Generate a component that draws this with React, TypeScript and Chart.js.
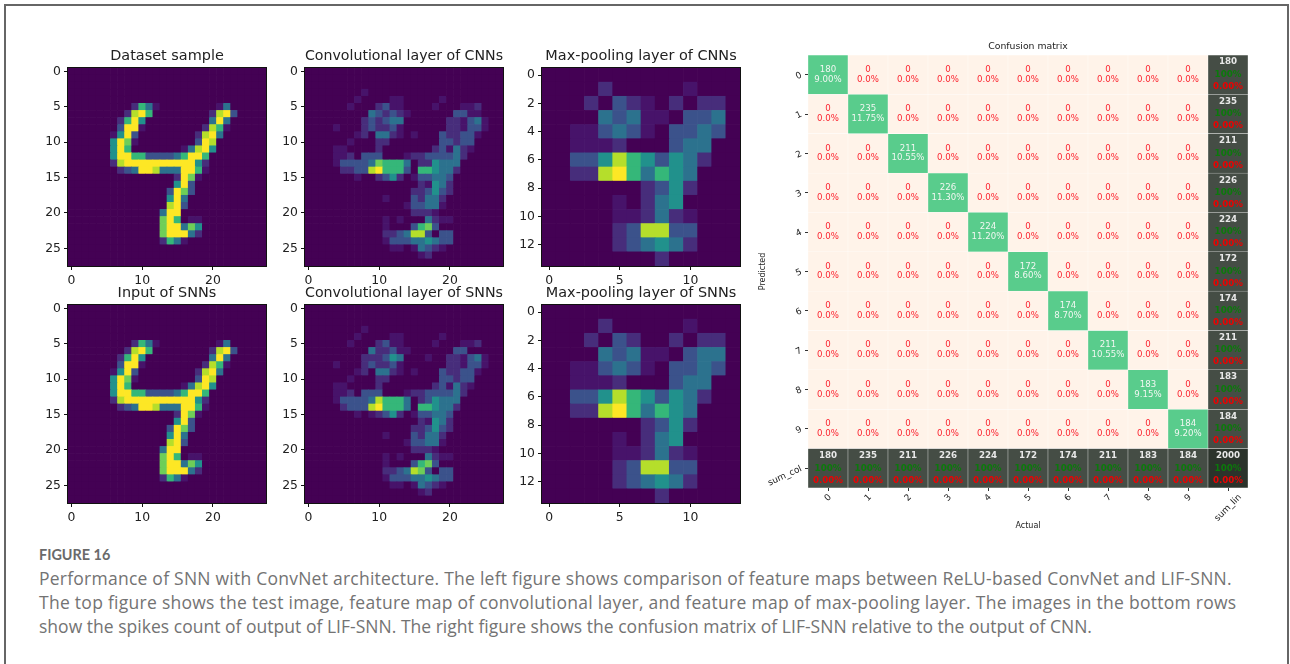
import React, { useEffect, useRef } from "react";
import { Chart, registerables } from "chart.js";

Chart.register(...registerables);

const viridis = ["#440154", "#47136a", "#472d7b", "#3b528b", "#2c728e", "#21918c", "#35b779", "#6ece58", "#b5de2b", "#fde725"];

const sampleRows = [
[0,0,0,0,0,0,0,0,0,0,0,0,0,0,0,0,0,0,0,0,0,0,0,0,0,0,0,0],
[0,0,0,0,0,0,0,0,0,0,0,0,0,0,0,0,0,0,0,0,0,0,0,0,0,0,0,0],
[0,0,0,0,0,0,0,0,0,0,0,0,0,0,0,0,0,0,0,0,0,0,0,0,0,0,0,0],
[0,0,0,0,0,0,0,0,0,0,0,0,0,0,0,0,0,0,0,0,0,0,0,0,0,0,0,0],
[0,0,0,0,0,0,0,0,0,0,0,0,0,0,0,0,0,0,0,0,0,0,0,0,0,0,0,0],
[0,0,0,0,0,0,0,0,0,2,6,4,1,0,0,0,0,0,0,0,0,1,4,0,0,0,0,0],
[0,0,0,0,0,0,0,0,2,8,9,6,0,0,0,0,0,0,0,0,2,8,9,3,0,0,0,0],
[0,0,0,0,0,0,0,2,6,9,5,0,0,0,0,0,0,0,0,0,4,9,4,0,0,0,0,0],
[0,0,0,0,0,0,0,3,9,9,1,0,0,0,0,0,0,0,0,2,8,6,1,0,0,0,0,0],
[0,0,0,0,0,0,1,5,9,3,0,0,0,0,0,0,0,0,2,8,9,4,0,0,0,0,0,0],
[0,0,0,0,0,0,5,9,7,1,0,0,0,0,0,0,0,0,3,9,8,0,0,0,0,0,0,0],
[0,0,0,0,0,0,5,9,6,0,0,0,0,0,0,0,1,4,8,9,5,0,0,0,0,0,0,0],
[0,0,0,0,0,0,5,9,9,6,6,3,3,3,3,4,6,9,9,6,0,0,0,0,0,0,0,0],
[0,0,0,0,0,0,2,8,9,9,9,9,9,9,9,9,9,9,5,2,0,0,0,0,0,0,0,0],
[0,0,0,0,0,0,0,2,3,4,9,9,8,4,4,4,9,9,6,1,0,0,0,0,0,0,0,0],
[0,0,0,0,0,0,0,0,0,0,0,0,0,0,0,2,9,7,1,0,0,0,0,0,0,0,0,0],
[0,0,0,0,0,0,0,0,0,0,0,0,0,0,0,5,9,3,0,0,0,0,0,0,0,0,0,0],
[0,0,0,0,0,0,0,0,0,0,0,0,0,0,3,9,7,3,0,0,0,0,0,0,0,0,0,0],
[0,0,0,0,0,0,0,0,0,0,0,0,0,0,5,9,4,0,0,0,0,0,0,0,0,0,0,0],
[0,0,0,0,0,0,0,0,0,0,0,0,0,0,8,9,3,0,0,0,0,0,0,0,0,0,0,0],
[0,0,0,0,0,0,0,0,0,0,0,0,0,4,9,9,0,0,0,0,0,0,0,0,0,0,0,0],
[0,0,0,0,0,0,0,0,0,0,0,0,0,7,9,6,0,1,1,0,0,0,0,0,0,0,0,0],
[0,0,0,0,0,0,0,0,0,0,0,0,0,7,9,9,4,7,5,0,0,0,0,0,0,0,0,0],
[0,0,0,0,0,0,0,0,0,0,0,0,0,7,9,9,9,4,2,0,0,0,0,0,0,0,0,0],
[0,0,0,0,0,0,0,0,0,0,0,0,0,2,6,4,1,0,0,0,0,0,0,0,0,0,0,0],
[0,0,0,0,0,0,0,0,0,0,0,0,0,0,0,0,0,0,0,0,0,0,0,0,0,0,0,0],
[0,0,0,0,0,0,0,0,0,0,0,0,0,0,0,0,0,0,0,0,0,0,0,0,0,0,0,0],
[0,0,0,0,0,0,0,0,0,0,0,0,0,0,0,0,0,0,0,0,0,0,0,0,0,0,0,0],
];

const convCnnRows = [
[0,0,0,0,0,0,0,0,0,0,0,0,0,0,0,0,0,0,0,0,0,0,0,0,0,0,0,0],
[0,0,0,0,0,0,0,0,0,0,0,0,0,0,0,0,0,0,0,0,0,0,0,0,0,0,0,0],
[0,0,0,0,0,0,0,0,0,0,0,0,0,0,0,0,0,0,0,0,0,0,0,0,0,0,0,0],
[0,0,0,0,0,0,0,0,1,0,0,0,0,0,0,0,0,0,0,0,0,0,0,0,0,0,0,0],
[0,0,0,0,0,0,0,1,0,0,0,0,1,1,0,0,0,0,0,1,0,0,0,0,0,0,0,0],
[0,0,0,0,0,0,1,0,0,0,2,3,1,1,0,0,0,0,1,0,0,0,1,1,2,0,0,0],
[0,0,0,0,0,0,0,0,0,4,3,2,3,2,1,0,0,0,0,0,0,3,3,1,1,0,0,0],
[0,0,0,0,0,0,0,0,2,3,2,3,4,4,0,0,0,0,0,0,2,2,1,3,4,1,0,0],
[0,0,0,0,1,0,0,0,2,3,2,2,3,1,0,0,0,0,0,0,2,2,1,3,3,1,0,0],
[0,0,0,0,0,0,0,1,2,0,4,4,2,1,0,1,0,0,0,3,2,2,3,3,1,0,0,0],
[0,0,0,0,0,0,1,0,0,0,2,2,0,0,0,0,0,0,0,3,3,2,3,3,0,0,0,0],
[0,0,0,0,1,1,0,0,0,0,2,0,0,0,0,0,0,0,2,3,1,4,2,1,0,0,0,0],
[0,0,0,0,1,1,2,0,3,3,3,0,0,0,1,2,2,3,3,3,3,4,2,0,0,0,0,0],
[0,0,0,0,1,3,3,3,3,4,7,6,6,6,4,0,2,2,5,4,4,4,0,0,0,0,0,0],
[0,0,0,0,0,2,2,3,3,8,9,6,6,6,3,0,6,6,5,4,4,2,0,0,0,0,0,0],
[0,0,0,0,0,0,0,1,0,0,2,3,5,2,0,1,3,3,4,4,3,0,0,0,0,0,0,0],
[0,0,0,0,0,0,0,0,0,0,0,0,0,0,0,0,2,1,5,4,2,0,0,0,0,0,0,0],
[0,0,0,0,0,0,0,0,0,0,0,0,0,0,0,2,2,3,5,3,2,0,0,0,0,0,0,0],
[0,0,0,0,0,0,0,0,0,0,0,1,0,0,0,3,2,4,4,2,0,0,0,0,0,0,0,0],
[0,0,0,0,0,0,0,0,0,0,0,0,0,0,1,3,3,4,4,1,0,0,0,0,0,0,0,0],
[0,0,0,0,0,0,0,0,0,0,0,0,0,0,0,2,2,2,1,0,0,0,0,0,0,0,0,0],
[0,0,0,0,0,0,0,0,0,0,0,1,0,1,0,0,0,4,2,1,1,0,0,0,0,0,0,0],
[0,0,0,0,0,0,0,0,0,0,0,1,0,0,0,3,6,7,3,0,0,0,0,0,0,0,0,0],
[0,0,0,0,0,0,0,0,0,0,0,2,2,3,4,8,8,3,0,3,3,0,0,0,0,0,0,0],
[0,0,0,0,0,0,0,0,0,0,0,1,3,3,3,4,4,5,4,3,3,0,0,0,0,0,0,0],
[0,0,0,0,0,0,0,0,0,0,0,0,1,1,0,1,4,3,2,1,0,0,0,0,0,0,0,0],
[0,0,0,0,0,0,0,0,0,0,0,0,0,0,0,0,1,2,0,0,0,0,0,0,0,0,0,0],
[0,0,0,0,0,0,0,0,0,0,0,0,0,0,0,0,0,0,0,0,0,0,0,0,0,0,0,0],
];

const convSnnRows = [
[0,0,0,0,0,0,0,0,0,0,0,0,0,0,0,0,0,0,0,0,0,0,0,0,0,0,0,0],
[0,0,0,0,0,0,0,0,0,0,0,0,0,0,0,0,0,0,0,0,0,0,0,0,0,0,0,0],
[0,0,0,0,0,0,0,0,0,0,0,0,0,0,0,0,0,0,0,0,0,0,0,0,0,0,0,0],
[0,0,0,0,0,0,0,0,1,0,0,0,0,0,0,0,0,0,0,0,0,0,0,0,0,0,0,0],
[0,0,0,0,0,0,0,1,0,0,0,0,1,1,0,0,0,0,0,1,0,0,0,0,0,0,0,0],
[0,0,0,0,0,0,1,0,0,0,2,3,1,1,0,0,0,0,1,0,0,0,1,1,2,0,0,0],
[0,0,0,0,0,0,0,0,0,4,2,2,3,1,1,0,0,0,0,0,0,3,3,0,0,0,0,0],
[0,0,0,0,0,0,0,0,2,2,2,3,5,4,0,0,0,1,0,0,2,2,1,3,4,1,0,0],
[0,0,0,0,1,0,0,0,2,3,2,2,3,1,0,0,0,0,0,0,2,2,1,3,3,1,0,0],
[0,0,0,0,0,0,0,1,2,0,4,4,2,1,0,1,0,0,0,3,2,2,3,3,1,0,0,0],
[0,0,0,0,0,0,1,0,0,0,2,2,0,0,0,0,0,0,0,3,3,2,3,3,0,0,0,0],
[0,0,0,0,1,1,0,0,0,0,2,0,0,0,0,0,0,0,2,3,1,4,2,1,0,0,0,0],
[0,0,0,0,1,1,2,0,3,3,3,0,0,0,1,2,2,3,3,3,3,4,2,0,0,0,0,0],
[0,0,0,0,1,3,3,3,3,4,8,6,6,6,4,0,2,3,5,4,4,4,0,0,0,0,0,0],
[0,0,0,0,0,2,3,3,3,8,9,6,6,6,4,0,6,6,5,4,4,2,0,0,0,0,0,0],
[0,0,0,0,0,0,0,1,0,1,2,3,5,2,0,1,3,3,4,4,3,0,0,0,0,0,0,0],
[0,0,0,0,0,0,0,0,0,0,0,0,0,0,0,0,2,1,5,4,2,0,0,0,0,0,0,0],
[0,0,0,0,0,0,0,0,0,0,0,0,0,0,0,2,2,3,5,3,2,0,0,0,0,0,0,0],
[0,0,0,0,0,0,0,0,0,0,0,1,0,0,0,3,2,4,4,2,0,0,0,0,0,0,0,0],
[0,0,0,0,0,0,0,0,0,0,0,0,0,0,1,3,3,4,4,1,0,0,0,0,0,0,0,0],
[0,0,0,0,0,0,0,0,0,0,0,0,0,0,0,2,2,2,1,0,0,0,0,0,0,0,0,0],
[0,0,0,0,0,0,0,0,0,0,0,1,0,1,0,0,0,4,2,1,1,0,0,0,0,0,0,0],
[0,0,0,0,0,0,0,0,0,0,0,1,0,0,0,3,6,7,3,0,0,0,0,0,0,0,0,0],
[0,0,0,0,0,0,0,0,0,0,0,2,2,3,4,8,7,3,0,3,3,0,0,0,0,0,0,0],
[0,0,0,0,0,0,0,0,0,0,0,1,3,3,3,4,4,5,4,3,3,0,0,0,0,0,0,0],
[0,0,0,0,0,0,0,0,0,0,0,0,1,1,0,1,4,3,2,1,0,0,0,0,0,0,0,0],
[0,0,0,0,0,0,0,0,0,0,0,0,0,0,0,0,1,2,0,0,0,0,0,0,0,0,0,0],
[0,0,0,0,0,0,0,0,0,0,0,0,0,0,0,0,0,0,0,0,0,0,0,0,0,0,0,0],
];

const poolCnnRows = [
[0,0,0,0,0,0,0,0,0,0,0,0,0,0],
[0,0,0,0,2,0,0,0,0,0,1,0,0,0],
[0,0,0,2,0,3,2,1,0,2,0,2,2,0],
[0,0,0,0,4,3,4,1,1,0,3,3,4,0],
[0,0,1,1,3,4,3,1,0,3,3,4,3,0],
[0,0,1,1,1,2,0,0,0,3,4,4,0,0],
[0,0,3,3,5,8,6,5,3,5,4,2,0,0],
[0,0,2,2,8,9,6,4,6,5,4,0,0,0],
[0,0,0,0,0,0,0,2,3,5,2,0,0,0],
[0,0,0,0,0,1,0,2,4,5,0,0,0,0],
[0,0,0,0,0,1,1,2,4,2,1,0,0,0],
[0,0,0,0,0,2,3,8,8,3,3,0,0,0],
[0,0,0,0,0,2,3,4,5,4,2,0,0,0],
[0,0,0,0,0,0,0,0,2,0,0,0,0,0],
];

const poolSnnRows = [
[0,0,0,0,0,0,0,0,0,0,0,0,0,0],
[0,0,0,0,2,0,0,0,0,0,1,0,0,0],
[0,0,0,2,0,3,2,0,0,2,0,2,2,0],
[0,0,0,0,4,3,4,1,1,0,3,4,4,0],
[0,0,1,1,3,4,3,1,0,3,3,4,3,0],
[0,0,1,1,1,2,0,0,0,3,4,4,0,0],
[0,0,3,3,5,8,6,5,3,5,4,2,0,0],
[0,0,2,2,8,9,6,4,6,5,4,0,0,0],
[0,0,0,0,0,0,0,2,3,5,2,0,0,0],
[0,0,0,0,0,1,0,2,4,5,0,0,0,0],
[0,0,0,0,0,1,1,2,4,2,1,0,0,0],
[0,0,0,0,0,2,3,8,8,3,3,0,0,0],
[0,0,0,0,0,2,3,4,5,4,2,0,0,0],
[0,0,0,0,0,0,0,0,2,0,0,0,0,0],
];

const ticks28 = [0, 5, 10, 15, 20, 25];
const ticks28X = [0, 10, 20];
const ticks14Y = [0, 2, 4, 6, 8, 10, 12];
const ticks14X = [0, 5, 10];

const cmLabelsX = ["0", "1", "2", "3", "4", "5", "6", "7", "8", "9", "sum_lin"];
const cmLabelsY = ["0", "1", "2", "3", "4", "5", "6", "7", "8", "9", "sum_col"];
const cmDiagonal = [180, 235, 211, 226, 224, 172, 174, 211, 183, 184];
const cmDiagonalPct = ["9.00%", "11.75%", "10.55%", "11.30%", "11.20%", "8.60%", "8.70%", "10.55%", "9.15%", "9.20%"];
const cmTotal = 2000;

const captionLines = [
  "Performance of SNN with ConvNet architecture. The left figure shows comparison of feature maps between ReLU-based ConvNet and LIF-SNN.",
  "The top figure shows the test image, feature map of convolutional layer, and feature map of max-pooling layer. The images in the bottom rows",
  "show the spikes count of output of LIF-SNN. The right figure shows the confusion matrix of LIF-SNN relative to the output of CNN.",
];
const captionSpacing = [0.24, 0.27, 0.02];

const FONT = '"DejaVu Sans"';
const SIDE = 198;
const MX = 38;
const MT = 30;
const MB = 30;
const SOFT = "blur(0.35px)";

const spinePlugin = {
  id: "spine",
  afterDatasetsDraw(chart: any) {
    const { ctx, chartArea: a } = chart;
    ctx.save();
    ctx.strokeStyle = "#111";
    ctx.lineWidth = 1;
    ctx.strokeRect(a.left - 0.5, a.top - 0.5, a.right - a.left + 1, a.bottom - a.top + 1);
    ctx.restore();
  },
};

function Heatmap({ left, top, title, rows, xTicks, yTicks }: any) {
  const ref = useRef<HTMLCanvasElement>(null);
  useEffect(() => {
    const n = rows.length;
    const axis = (values: number[], reverse: boolean, fit: (s: any) => void) => ({
      type: "linear",
      min: -0.5,
      max: n - 0.5,
      reverse,
      offset: false,
      afterBuildTicks: (s: any) => {
        s.ticks = values.map((value) => ({ value }));
      },
      afterFit: fit,
      border: { display: false },
      grid: { display: true, offset: false, drawOnChartArea: false, drawTicks: true, tickLength: 4, color: "#111" },
      ticks: {
        autoSkip: false,
        maxRotation: 0,
        padding: 3,
        color: "#222",
        font: { family: FONT, size: 12.4 },
        callback: (v: number) => String(v),
      },
    });
    const chart = new Chart(ref.current as any, {
      type: "bar",
      data: {
        datasets: [
          {
            data: rows.flatMap((row: number[], r: number) =>
              row.map((_v: number, c: number) => ({ x: c, y: [r - 0.5, r + 0.5] }))
            ),
            backgroundColor: rows.flat().map((v: number) => viridis[v]),
            barPercentage: 1,
            categoryPercentage: 1,
            borderWidth: 0,
          },
        ],
      },
      options: {
        animation: false,
        responsive: false,
        layout: { padding: { left: 0, right: MX, top: 0, bottom: 0 } },
        plugins: {
          legend: { display: false },
          tooltip: { enabled: false },
          title: {
            display: true,
            fullSize: false,
            text: title,
            color: "#222",
            font: { family: FONT, size: 14.45, weight: "normal", lineHeight: "18px" },
            padding: { top: 9, bottom: 3 },
          },
        },
        scales: {
          x: axis(xTicks, false, (s: any) => { s.height = MB; }),
          y: axis(yTicks, true, (s: any) => { s.width = MX; }),
        },
      } as any,
      plugins: [spinePlugin],
    } as any);
    return () => chart.destroy();
  }, []);
  return (
    <canvas
      ref={ref}
      width={SIDE + 2 * MX}
      height={SIDE + MT + MB}
      style={{ position: "absolute", left: left - MX, top: top - MT, width: SIDE + 2 * MX, height: SIDE + MT + MB, filter: SOFT }}
    />
  );
}

const cmTextPlugin = {
  id: "cmText",
  afterDatasetsDraw(chart: any) {
    const { ctx, scales } = chart;
    const xs = scales.x;
    const ys = scales.y;
    const size = cmLabelsX.length;
    const put = (t: string, x: number, y: number, color: string, bold: boolean) => {
      ctx.font = `${bold ? "bold 8.7px" : "8.6px"} ${FONT}`;
      ctx.fillStyle = color;
      ctx.fillText(t, x, y);
    };
    ctx.save();
    ctx.textAlign = "center";
    ctx.textBaseline = "middle";
    for (let r = 0; r < size; r++) {
      for (let c = 0; c < size; c++) {
        const x = xs.getPixelForValue(c);
        const y = ys.getPixelForValue(r);
        const last = size - 1;
        if (r === last || c === last) {
          const v = r === last && c === last ? cmTotal : cmDiagonal[Math.min(r, c)];
          put(String(v), x, y - 12.5, "#e8e8e8", true);
          put("100%", x, y, "#0b7a0b", true);
          put("0.00%", x, y + 12, "#ee0000", true);
        } else if (r === c) {
          put(String(cmDiagonal[r]), x, y - 5, "#f2f7f2", false);
          put(cmDiagonalPct[r], x, y + 4.7, "#f2f7f2", false);
        } else {
          put("0", x, y - 5, "#fb2430", false);
          put("0.0%", x, y + 4.7, "#fb2430", false);
        }
      }
    }
    // rotated category labels, anchored on the scales' own ticks
    ctx.font = `8.9px ${FONT}`;
    ctx.fillStyle = "#222";
    const s45 = Math.sin(Math.PI / 4);
    const s25 = Math.sin((25 * Math.PI) / 180);
    const c25 = Math.cos((25 * Math.PI) / 180);
    xs.ticks.forEach((t: any) => {
      const label = cmLabelsX[t.value];
      const w = ctx.measureText(label).width;
      const x = xs.getPixelForValue(t.value);
      const y = xs.top + 5 + ((w + 8) * s45) / 2;
      ctx.save();
      ctx.translate(x, y);
      ctx.rotate(-Math.PI / 4);
      ctx.fillText(label, 0, 0);
      ctx.restore();
    });
    ys.ticks.forEach((t: any) => {
      const label = cmLabelsY[t.value];
      const w = ctx.measureText(label).width;
      const x = ys.right - 5 - (w * c25 + 8 * s25) / 2;
      const y = ys.getPixelForValue(t.value) + (w * s25) / 2;
      ctx.save();
      ctx.translate(x, y);
      ctx.rotate((-25 * Math.PI) / 180);
      ctx.fillText(label, 0, 0);
      ctx.restore();
    });
    ctx.restore();
  },
};

function ConfusionMatrix() {
  const ref = useRef<HTMLCanvasElement>(null);
  useEffect(() => {
    const size = cmLabelsX.length;
    const last = size - 1;
    const cells: any[] = [];
    const colors: string[] = [];
    for (let r = 0; r < size; r++) {
      for (let c = 0; c < size; c++) {
        cells.push({ x: c, y: [r - 0.5, r + 0.5] });
        if (r === last && c === last) colors.push("#2b332b");
        else if (r === last || c === last) colors.push("#454d45");
        else if (r === c) colors.push("#59cc8c");
        else colors.push("#fff3e9");
      }
    }
    const tickList = cmLabelsX.map((_l, i) => i);
    const axis = (reverse: boolean, fit: (s: any) => void, label: string, pad: any) => ({
      type: "linear",
      min: -0.5,
      max: size - 0.5,
      reverse,
      offset: false,
      afterBuildTicks: (s: any) => {
        s.ticks = tickList.map((value) => ({ value }));
      },
      afterFit: fit,
      border: { display: false },
      grid: { display: true, offset: false, drawOnChartArea: false, drawTicks: true, tickLength: 3, color: "#333" },
      ticks: { display: false },
      title: { display: true, text: label, color: "#222", font: { family: FONT, size: 8, lineHeight: "10px" }, padding: pad },
    });
    const chart = new Chart(ref.current as any, {
      type: "bar",
      data: {
        datasets: [
          {
            data: cells,
            backgroundColor: colors,
            borderColor: "rgba(255,255,255,0.55)",
            borderWidth: 0.5,
            borderSkipped: false,
            barPercentage: 1,
            categoryPercentage: 1,
          },
        ],
      },
      options: {
        animation: false,
        responsive: false,
        layout: { padding: { left: 0, right: 32, top: 0, bottom: 0 } },
        plugins: {
          legend: { display: false },
          tooltip: { enabled: false },
          title: {
            display: true,
            fullSize: false,
            text: "Confusion matrix",
            color: "#222",
            font: { family: FONT, size: 9.3, weight: "normal", lineHeight: "10px" },
            padding: { top: 12, bottom: 3 },
          },
        },
        scales: {
          x: axis(false, (s: any) => { s.height = 48; }, "Actual", { top: 0, bottom: 5 }),
          y: axis(true, (s: any) => { s.width = 58; }, "Predicted", { top: 8, bottom: 0 }),
        },
      } as any,
      plugins: [cmTextPlugin],
    } as any);
    return () => chart.destroy();
  }, []);
  return (
    <canvas
      ref={ref}
      width={530}
      height={506}
      style={{ position: "absolute", left: 750, top: 30, width: 530, height: 506, filter: SOFT }}
    />
  );
}

export default function App() {
  return (
    <div style={{ position: "absolute", left: 0, top: 0, width: 1290, height: 664, overflow: "hidden", background: "#fff" }}>
      <div
        style={{
          position: "absolute",
          left: 4,
          top: 4,
          width: 1285,
          height: 700,
          boxSizing: "border-box",
          border: "2px solid #666",
        }}
      />
      <Heatmap left={68} top={68} title="Dataset sample" rows={sampleRows} xTicks={ticks28X} yTicks={ticks28} />
      <Heatmap left={305} top={68} title="Convolutional layer of CNNs" rows={convCnnRows} xTicks={ticks28X} yTicks={ticks28} />
      <Heatmap left={542} top={68} title="Max-pooling layer of CNNs" rows={poolCnnRows} xTicks={ticks14X} yTicks={ticks14Y} />
      <Heatmap left={68} top={305} title="Input of SNNs" rows={sampleRows} xTicks={ticks28X} yTicks={ticks28} />
      <Heatmap left={305} top={305} title="Convolutional layer of SNNs" rows={convSnnRows} xTicks={ticks28X} yTicks={ticks28} />
      <Heatmap left={542} top={305} title="Max-pooling layer of SNNs" rows={poolSnnRows} xTicks={ticks14X} yTicks={ticks14Y} />
      <ConfusionMatrix />
      <div style={{ position: "absolute", left: 39, top: 545, fontFamily: "Lato", fontWeight: 700, fontSize: 14.4, lineHeight: "20px", color: "#6a6a6a", whiteSpace: "nowrap" }}>
        FIGURE 16
      </div>
      {captionLines.map((line, i) => (
        <div
          key={i}
          style={{ position: "absolute", left: 39, top: 566 + i * 24, fontFamily: '"Open Sans"', fontSize: 17.5, letterSpacing: captionSpacing[i], lineHeight: "24px", color: "#737373", whiteSpace: "nowrap" }}
        >
          {line}
        </div>
      ))}
    </div>
  );
}
